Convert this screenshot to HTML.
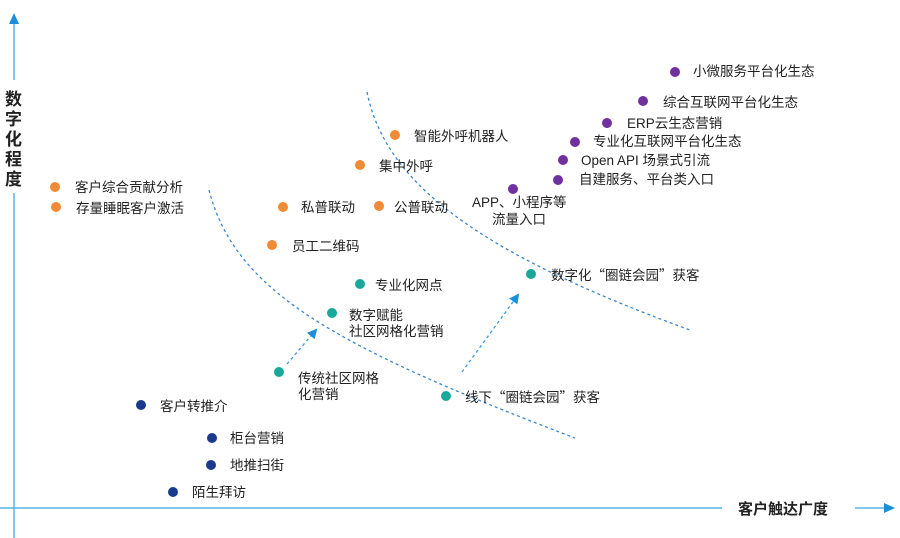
<!DOCTYPE html>
<html><head><meta charset="utf-8"><style>
html,body{margin:0;padding:0;background:#fff;}
svg{display:block;}
text{font-family:"Liberation Sans","Noto Sans CJK SC",sans-serif;font-size:13.5px;fill:#222;}
.q{font-family:"Noto Sans CJK SC",sans-serif;}
</style></head><body>
<svg width="900" height="538" viewBox="0 0 900 538">
<defs>
<marker id="a" markerWidth="10" markerHeight="10" refX="8" refY="5" orient="auto" markerUnits="userSpaceOnUse"><path d="M0,0 L10,5 L0,10z" fill="#1a8fd8"/></marker>
</defs>
<line x1="14" y1="24" x2="14" y2="80" stroke="#5ab4e8" stroke-width="1.5"/>
<line x1="14" y1="193" x2="14" y2="538" stroke="#5ab4e8" stroke-width="1.5"/>
<path d="M9,24 L14,13 L19,24z" fill="#1a8fd8"/>
<text x="5" y="105" style="font-size:17px;font-weight:bold">数</text>
<text x="5" y="125" style="font-size:17px;font-weight:bold">字</text>
<text x="5" y="145" style="font-size:17px;font-weight:bold">化</text>
<text x="5" y="165" style="font-size:17px;font-weight:bold">程</text>
<text x="5" y="185" style="font-size:17px;font-weight:bold">度</text>
<line x1="0" y1="508" x2="722" y2="508" stroke="#5ab4e8" stroke-width="1.5"/>
<line x1="855" y1="508" x2="886" y2="508" stroke="#5ab4e8" stroke-width="1.5"/>
<path d="M884,503 L895,508 L884,513z" fill="#1a8fd8"/>
<text x="738" y="514" style="font-size:15px;font-weight:bold">客户触达广度</text>
<path d="M209,190 C235,290 330,345 575,438" fill="none" stroke="#3a86d0" stroke-width="1.3" stroke-dasharray="3,3"/>
<path d="M367,92 C385,180 470,250 690,330" fill="none" stroke="#3a86d0" stroke-width="1.3" stroke-dasharray="3,3"/>
<line x1="287" y1="364" x2="316" y2="330" stroke="#3a9ae0" stroke-width="1.3" stroke-dasharray="3,3" marker-end="url(#a)"/>
<line x1="462" y1="372" x2="518" y2="295" stroke="#3a9ae0" stroke-width="1.3" stroke-dasharray="3,3" marker-end="url(#a)"/>
<g fill="#f08a35">
<circle cx="55" cy="187" r="5"/><circle cx="56" cy="207" r="5"/>
<circle cx="395" cy="135" r="5"/><circle cx="360" cy="165" r="5"/>
<circle cx="283" cy="207" r="5"/><circle cx="379" cy="206" r="5"/>
<circle cx="272" cy="245" r="5"/>
</g>
<text x="75" y="192">客户综合贡献分析</text>
<text x="76" y="213">存量睡眠客户激活</text>
<text x="414" y="141">智能外呼机器人</text>
<text x="379" y="171">集中外呼</text>
<text x="301" y="212">私普联动</text>
<text x="394" y="212">公普联动</text>
<text x="292" y="251">员工二维码</text>
<g fill="#7030a0">
<circle cx="675" cy="72" r="5"/><circle cx="643" cy="101" r="5"/>
<circle cx="607" cy="123" r="5"/><circle cx="575" cy="142" r="5"/>
<circle cx="563" cy="160" r="5"/><circle cx="558" cy="180" r="5"/>
<circle cx="513" cy="189" r="5"/>
</g>
<text x="693" y="76">小微服务平台化生态</text>
<text x="663" y="107">综合互联网平台化生态</text>
<text x="627" y="128">ERP云生态营销</text>
<text x="593" y="146">专业化互联网平台化生态</text>
<text x="581" y="165">Open API 场景式引流</text>
<text x="579" y="184">自建服务、平台类入口</text>
<text x="472" y="207">APP、小程序等</text>
<text x="492" y="224">流量入口</text>
<g fill="#1aa89a">
<circle cx="531" cy="274" r="5"/><circle cx="360" cy="284" r="5"/>
<circle cx="332" cy="313" r="5"/><circle cx="279" cy="372" r="5"/>
<circle cx="446" cy="396" r="5"/>
</g>
<text x="551" y="280">数字化<tspan class="q">“</tspan>圈链会园<tspan class="q">”</tspan>获客</text>
<text x="375" y="290">专业化网点</text>
<text x="349" y="320">数字赋能</text>
<text x="349" y="336">社区网格化营销</text>
<text x="298" y="383">传统社区网格</text>
<text x="298" y="399">化营销</text>
<text x="465" y="402">线下<tspan class="q">“</tspan>圈链会园<tspan class="q">”</tspan>获客</text>
<g fill="#1a3a8c">
<circle cx="141" cy="405" r="5"/><circle cx="212" cy="438" r="5"/>
<circle cx="211" cy="465" r="5"/><circle cx="173" cy="492" r="5"/>
</g>
<text x="160" y="411">客户转推介</text>
<text x="230" y="443">柜台营销</text>
<text x="230" y="470">地推扫街</text>
<text x="192" y="497">陌生拜访</text>
</svg>
</body></html>
